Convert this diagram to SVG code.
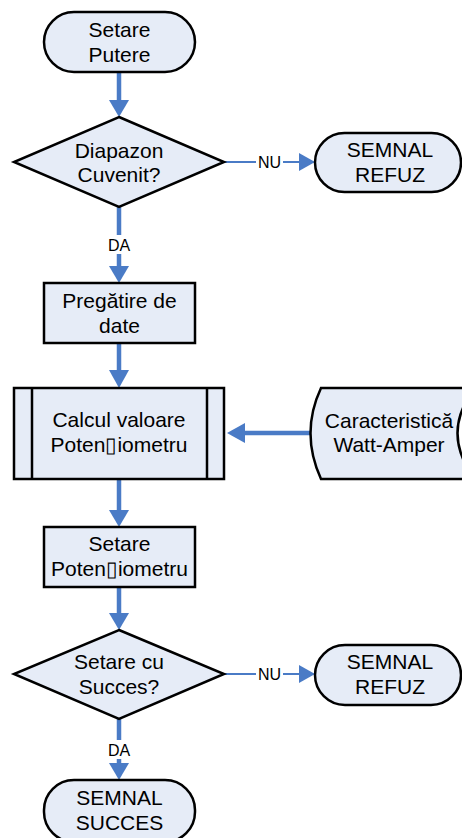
<svg xmlns="http://www.w3.org/2000/svg" width="462" height="838" viewBox="0 0 462 838">
<defs>
<style>
.n{fill:#e6ecf7;stroke:#000;stroke-width:2.5}
.t{font-family:"Liberation Sans",Arial,sans-serif;font-size:21px;fill:#000;text-anchor:middle}
.l{font-family:"Liberation Sans",Arial,sans-serif;font-size:16px;fill:#000;text-anchor:middle}
.c{stroke:#4a7bc6;stroke-width:4.5;fill:none}
.c2{stroke:#4a7bc6;stroke-width:2;fill:none}
.h{fill:#4a7bc6}
</style>
</defs>
<rect width="462" height="838" fill="#fff"/>
<g id="connectors">
<line class="c" x1="119" y1="72" x2="119" y2="102"/>
<polygon class="h" points="109,100 129,100 119,117"/>
<line class="c2" x1="224" y1="162" x2="302" y2="162"/>
<polygon class="h" points="299,153 299,171 315,162"/>
<rect x="256" y="153" width="27" height="18" fill="#fff"/>
<text class="l" x="269.500" y="168">NU</text>
<line class="c" x1="119" y1="207" x2="119" y2="268"/>
<rect x="104" y="235" width="30" height="19" fill="#fff"/>
<text class="l" x="119" y="251">DA</text>
<polygon class="h" points="109,266 129,266 119,283"/>
<line class="c" x1="119" y1="343" x2="119" y2="372"/>
<polygon class="h" points="109,370 129,370 119,388"/>
<line class="c" x1="310" y1="433" x2="242" y2="433"/>
<polygon class="h" points="245,423 245,443 227,433"/>
<line class="c" x1="119" y1="479" x2="119" y2="512"/>
<polygon class="h" points="109,510 129,510 119,527"/>
<line class="c" x1="119" y1="587" x2="119" y2="615"/>
<polygon class="h" points="109,613 129,613 119,630"/>
<line class="c2" x1="224" y1="674" x2="302" y2="674"/>
<polygon class="h" points="299,665 299,683 315,674"/>
<rect x="256" y="665" width="27" height="18" fill="#fff"/>
<text class="l" x="269.500" y="680">NU</text>
<line class="c" x1="119" y1="719" x2="119" y2="765"/>
<rect x="104" y="740" width="30" height="19" fill="#fff"/>
<text class="l" x="119" y="756">DA</text>
<polygon class="h" points="109,763 129,763 119,780"/>
</g>
<g id="start">
<rect class="n" x="44" y="12" width="151" height="60" rx="30" ry="30"/>
<text class="t" x="119.500" y="37">Setare</text>
<text class="t" x="119.500" y="62">Putere</text>
</g>
<g id="decision1">
<polygon class="n" points="119,117 224,162 119,207 14,162"/>
<text class="t" x="119" y="158">Diapazon</text>
<text class="t" x="119" y="182">Cuvenit?</text>
</g>
<g id="refuz1">
<rect class="n" x="315" y="133" width="146" height="59" rx="29.500" ry="29.500"/>
<text class="t" x="390" y="157">SEMNAL</text>
<text class="t" x="390" y="182">REFUZ</text>
</g>
<g id="pregatire">
<rect class="n" x="44" y="283" width="151" height="60"/>
<text class="t" x="119.500" y="308">Pregătire de</text>
<text class="t" x="119.500" y="333">date</text>
</g>
<g id="calcul">
<rect class="n" x="14" y="388" width="210" height="91"/>
<line x1="32" y1="388" x2="32" y2="479" stroke="#000" stroke-width="2.5"/>
<line x1="207" y1="388" x2="207" y2="479" stroke="#000" stroke-width="2.5"/>
<text class="t" x="119" y="427">Calcul valoare</text>
<text class="t" x="119" y="452">Poten▯iometru</text>
</g>
<g id="caracteristica">
<path class="n" d="M321,388 L475,388 Q440,433 475,479 L321,479 Q300,433 321,388 Z"/>
<text class="t" x="389" y="428">Caracteristică</text>
<text class="t" x="389" y="452">Watt-Amper</text>
</g>
<g id="setare">
<rect class="n" x="44" y="527" width="151" height="60"/>
<text class="t" x="119.500" y="551">Setare</text>
<text class="t" x="119.500" y="576">Poten▯iometru</text>
</g>
<g id="decision2">
<polygon class="n" points="119,630 224,674 119,719 14,674"/>
<text class="t" x="119" y="669">Setare cu</text>
<text class="t" x="119" y="694">Succes?</text>
</g>
<g id="refuz2">
<rect class="n" x="315" y="645" width="146" height="60" rx="30" ry="30"/>
<text class="t" x="390" y="669">SEMNAL</text>
<text class="t" x="390" y="694">REFUZ</text>
</g>
<g id="succes">
<rect class="n" x="44" y="780" width="151" height="62" rx="30" ry="30"/>
<text class="t" x="119.500" y="805">SEMNAL</text>
<text class="t" x="119.500" y="830">SUCCES</text>
</g>
</svg>
